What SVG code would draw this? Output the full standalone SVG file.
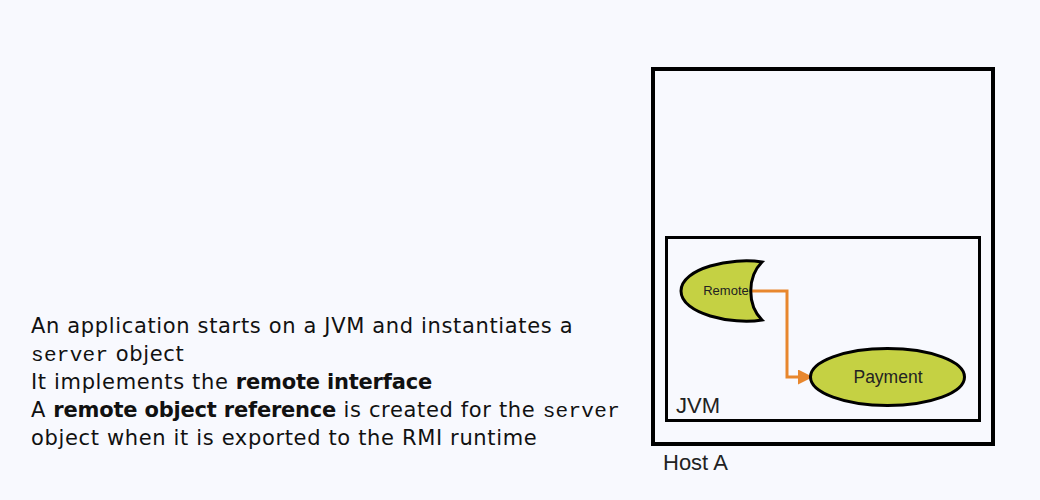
<svg xmlns="http://www.w3.org/2000/svg" width="1040" height="500" viewBox="0 0 1040 500">
<style>
.body{font-family:"DejaVu Sans","Open Sans",sans-serif;font-size:21px;letter-spacing:0.65px;fill:#111}
.mono{font-family:"Liberation Mono","Courier New",monospace;font-size:21px;letter-spacing:0.3px}
.b{font-weight:bold;letter-spacing:-0.2px}
.lbl{font-family:"Liberation Sans",Arial,sans-serif;fill:#222}
.box{fill:none;stroke:#000}
.shape{fill:#C5D143;stroke:#000;stroke-width:3}
</style>
<defs>
<marker id="ah" markerWidth="5" markerHeight="5" refX="0" refY="2.5" orient="auto" markerUnits="strokeWidth">
<path d="M0,0 L5,2.5 L0,5 Z" fill="#E8872E"/>
</marker>
</defs>
<rect width="1040" height="500" fill="#F8F9FE"/>
<g id="text">
<text class="body" x="31" y="333">An application starts on a JVM and instantiates a</text>
<text class="body" x="31" y="361"><tspan class="mono">server</tspan> object</text>
<text class="body" x="31" y="389">It implements the <tspan class="b">remote interface</tspan></text>
<text class="body" x="31" y="417">A <tspan class="b">remote object reference</tspan> is created for the <tspan class="mono">server</tspan></text>
<text class="body" x="31" y="445">object when it is exported to the RMI runtime</text>
</g>
<g id="hostA">
<rect class="box" x="653" y="69" width="340" height="375" stroke-width="4"/>
<text class="lbl" x="663" y="470" font-size="22">Host A</text>
</g>
<g id="jvm">
<rect class="box" x="666.5" y="237.5" width="313" height="183" stroke-width="3"/>
<text class="lbl" x="676" y="413" font-size="22">JVM</text>
</g>
<g id="connectors">
<path d="M750,291 H787 V377 H798" fill="none" stroke="#E8872E" stroke-width="3" marker-end="url(#ah)"/>
</g>
<g id="remote">
<path class="shape" d="M762,262 C732,257 681,268 681,291 C681,314 732,325 762,320 C747,305 747,277 762,262 Z"/>
<text class="lbl" x="726" y="295" font-size="13" text-anchor="middle">Remote</text>
</g>
<g id="payment">
<ellipse class="shape" cx="887.5" cy="377" rx="77" ry="28.5"/>
<text class="lbl" x="888" y="383" font-size="17.5" text-anchor="middle">Payment</text>
</g>
</svg>
